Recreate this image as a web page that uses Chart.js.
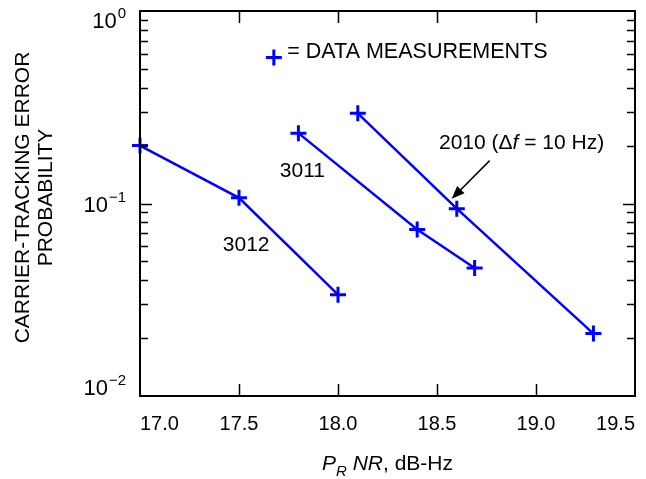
<!DOCTYPE html>
<html>
<head>
<meta charset="utf-8">
<script src="https://cdn.jsdelivr.net/npm/chart.js@4"></script>
<style>
  html, body { margin: 0; padding: 0; background: #fff; }
  #wrap { width: 646px; height: 479px; }
</style>
</head>
<body>
<div id="wrap"><canvas id="graph"></canvas></div>
<script>
'use strict';

// values (x = PR/N0 dB-Hz, y = error probability)
const x3012 = [17.0, 17.5, 18.0];
const y3012 = [0.200, 0.107, 0.0336];
const x3011 = [17.8, 18.4, 18.69];
const y3011 = [0.232, 0.0733, 0.0462];
const x2010 = [18.1, 18.6, 19.29];
const y2010 = [0.294, 0.094, 0.0211];

const xTicks = [17.0, 17.5, 18.0, 18.5, 19.0, 19.5];
const xTickLabels = ['17.0', '17.5', '18.0', '18.5', '19.0', '19.5'];
const yTicks = [1, 0.1, 0.01];
const yTickExp = ['0', '\u22121', '\u22122'];

const BLUE = 'rgb(0, 0, 255)';
const FONT = '"Liberation Sans", Arial, sans-serif';

function toPoints(xs, ys) {
    return xs.map((x, i) => ({ x: x, y: ys[i] }));
}

function series(label, xs, ys) {
    return {
        label: label,
        data: toPoints(xs, ys),
        showLine: true,
        clip: false,
        borderColor: BLUE,
        backgroundColor: BLUE,
        borderWidth: 2.5,
        pointStyle: 'cross',
        pointRadius: 8,
        pointBorderWidth: 3,
        pointBorderColor: BLUE
    };
}

// everything else drawn on top of the chart area
const decor = {
    id: 'decor',
    afterDraw(chart) {
        const ctx = chart.ctx;
        const a = chart.chartArea;
        const xs = chart.scales.x;
        const ys = chart.scales.y;
        ctx.save();

        // frame
        ctx.strokeStyle = '#000';
        ctx.lineWidth = 2;
        ctx.strokeRect(a.left, a.top, a.right - a.left, a.bottom - a.top);

        // x ticks, inward on bottom and top
        ctx.lineWidth = 1.5;
        xTicks.slice(1, -1).forEach(v => {
            const px = Math.round(xs.getPixelForValue(v)) + 0.5;
            ctx.beginPath();
            ctx.moveTo(px, a.bottom); ctx.lineTo(px, a.bottom - 12);
            ctx.moveTo(px, a.top); ctx.lineTo(px, a.top + 12);
            ctx.stroke();
        });

        // y ticks, major and minor, inward on left and right
        for (let e = -2; e < 0; e++) {
            for (let m = 1; m <= 9; m++) {
                const v = m * Math.pow(10, e);
                if (v <= 0.01) continue;
                const py = Math.round(ys.getPixelForValue(v)) + 0.5;
                const len = m === 1 ? 12 : 8;
                ctx.beginPath();
                ctx.moveTo(a.left, py); ctx.lineTo(a.left + len, py);
                ctx.moveTo(a.right, py); ctx.lineTo(a.right - len, py);
                ctx.stroke();
            }
        }

        ctx.fillStyle = '#000';
        ctx.textBaseline = 'middle';

        // x tick labels
        ctx.font = '20px ' + FONT;
        xTicks.forEach((v, i) => {
            const px = xs.getPixelForValue(v);
            ctx.textAlign = i === 0 ? 'left' : (i === xTicks.length - 1 ? 'right' : 'center');
            ctx.fillText(xTickLabels[i], px, a.bottom + 28);
        });

        // y tick labels with superscripts
        yTicks.forEach((v, i) => {
            let py = ys.getPixelForValue(v) + 2;
            py = Math.min(Math.max(py, a.top + 11), a.bottom - 7);
            ctx.font = '15px ' + FONT;
            const ew = ctx.measureText(yTickExp[i]).width;
            ctx.textAlign = 'left';
            const right = a.left - 14;
            ctx.fillText(yTickExp[i], right - ew, py - 8);
            ctx.font = '22px ' + FONT;
            ctx.textAlign = 'right';
            ctx.fillText('10', right - ew - 1, py);
        });

        // y axis title
        ctx.save();
        ctx.translate(0, (a.top + a.bottom) / 2 - 6);
        ctx.rotate(-Math.PI / 2);
        ctx.textAlign = 'center';
        ctx.font = '21px ' + FONT;
        ctx.fillText('CARRIER-TRACKING ERROR', 0, 23);
        ctx.fillText('PROBABILITY', 0, 46);
        ctx.restore();

        // x axis title: P_R NR, dB-Hz
        ctx.textBaseline = 'alphabetic';
        ctx.textAlign = 'left';
        const parts = [
            ['italic 21px ' + FONT, 'P', 0],
            ['italic 15px ' + FONT, 'R', 6],
            ['21px ' + FONT, ' ', 0],
            ['italic 21px ' + FONT, 'NR', 0],
            ['21px ' + FONT, ', dB-Hz', 0]
        ];
        let w = 0;
        parts.forEach(p => { ctx.font = p[0]; w += ctx.measureText(p[1]).width; });
        let cx = (a.left + a.right) / 2 - w / 2;
        parts.forEach(p => {
            ctx.font = p[0];
            ctx.fillText(p[1], cx, 470 + p[2]);
            cx += ctx.measureText(p[1]).width;
        });

        // series labels
        ctx.textBaseline = 'middle';
        ctx.font = '21px ' + FONT;
        ctx.textAlign = 'center';
        ctx.fillText('3011', xs.getPixelForValue(17.82), ys.getPixelForValue(0.148));
        ctx.fillText('3012', xs.getPixelForValue(17.536), ys.getPixelForValue(0.0606));

        // 2010 label with italic f
        ctx.textAlign = 'left';
        const lab = [
            ['21px ' + FONT, '2010 (\u0394'],
            ['italic 21px ' + FONT, 'f'],
            ['21px ' + FONT, ' = 10 Hz)']
        ];
        let lx = xs.getPixelForValue(18.51);
        const ly = ys.getPixelForValue(0.2046);
        lab.forEach(p => {
            ctx.font = p[0];
            ctx.fillText(p[1], lx, ly);
            lx += ctx.measureText(p[1]).width;
        });

        // arrow to the 2010 curve
        const x0 = xs.getPixelForValue(18.766), y0 = ys.getPixelForValue(0.167);
        const x1 = xs.getPixelForValue(18.574), y1 = ys.getPixelForValue(0.1058);
        const ang = Math.atan2(y1 - y0, x1 - x0);
        ctx.strokeStyle = '#000';
        ctx.lineWidth = 1.5;
        ctx.beginPath();
        ctx.moveTo(x0, y0);
        ctx.lineTo(x1 - 10 * Math.cos(ang), y1 - 10 * Math.sin(ang));
        ctx.stroke();
        ctx.beginPath();
        ctx.moveTo(x1, y1);
        ctx.lineTo(x1 - 14 * Math.cos(ang - 0.38), y1 - 14 * Math.sin(ang - 0.38));
        ctx.lineTo(x1 - 14 * Math.cos(ang + 0.38), y1 - 14 * Math.sin(ang + 0.38));
        ctx.closePath();
        ctx.fill();

        // key
        const kx = xs.getPixelForValue(17.676), ky = ys.getPixelForValue(0.573);
        ctx.strokeStyle = BLUE;
        ctx.lineWidth = 3;
        ctx.beginPath();
        ctx.moveTo(kx - 8, ky); ctx.lineTo(kx + 8, ky);
        ctx.moveTo(kx, ky - 8); ctx.lineTo(kx, ky + 8);
        ctx.stroke();
        ctx.fillStyle = '#000';
        ctx.font = '21.5px ' + FONT;
        ctx.fillText('= DATA MEASUREMENTS', xs.getPixelForValue(17.744), ky - 5);

        ctx.restore();
    }
};

const ctx = document.getElementById('graph').getContext('2d');
new Chart(ctx, {
    type: 'scatter',
    data: {
        datasets: [
            series('3012', x3012, y3012),
            series('3011', x3011, y3011),
            series('2010', x2010, y2010)
        ]
    },
    options: {
        responsive: true,
        maintainAspectRatio: false,
        animation: false,
        layout: { padding: { left: 140, top: 10, right: 9, bottom: 83 } },
        plugins: {
            legend: { display: false },
            tooltip: { enabled: false }
        },
        scales: {
            x: {
                type: 'linear',
                min: 17.0,
                max: 19.5,
                grid: { display: false, drawTicks: false },
                border: { display: false },
                ticks: { display: false }
            },
            y: {
                type: 'logarithmic',
                min: 0.01,
                max: 1,
                grid: { display: false, drawTicks: false },
                border: { display: false },
                ticks: { display: false }
            }
        }
    },
    plugins: [decor]
});
</script>
</body>
</html>
